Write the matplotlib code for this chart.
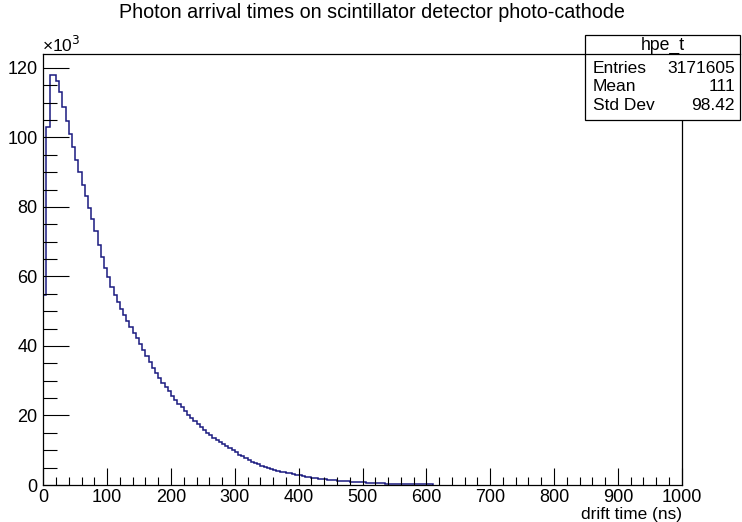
import numpy as np
import matplotlib.pyplot as plt
from matplotlib.ticker import MultipleLocator
from matplotlib.patches import Rectangle
from matplotlib.lines import Line2D

plt.rcParams['font.family'] = ['Liberation Sans', 'DejaVu Sans']

# bin contents (x 1000 entries), 5 ns bins starting at 0 ns
counts_k = [
    54.8, 103.0, 118.0, 118.0, 116.3, 113.0, 108.7, 104.8, 101.0, 97.1,
    93.5, 89.9, 86.2, 83.2, 79.8, 76.4, 73.1, 69.0, 65.5, 62.5,
    59.7, 57.0, 54.8, 52.7, 50.7, 48.9, 47.2, 45.5, 43.8, 42.2,
    40.6, 38.9, 37.1, 35.4, 33.8, 32.3, 30.8, 29.4, 28.1, 26.9,
    25.7, 24.5, 23.4, 22.3, 21.2, 20.2, 19.2, 18.3, 17.5, 16.6,
    15.8, 15.0, 14.3, 13.6, 12.9, 12.3, 11.7, 11.1, 10.6, 9.97,
    9.35, 8.76, 8.22, 7.70, 7.22, 6.76, 6.33, 5.92, 5.54, 5.18,
    4.84, 4.53, 4.29, 4.07, 3.87, 3.67, 3.48, 3.31, 3.14, 2.98,
    2.80, 2.61, 2.43, 2.26, 2.11, 1.96, 1.83, 1.71, 1.59, 1.49,
    1.40, 1.32, 1.24, 1.17, 1.10, 1.03, 0.97, 0.90, 0.83, 0.77,
    0.72, 0.66, 0.61, 0.57, 0.53, 0.49, 0.46, 0.43, 0.40, 0.38,
    0.35, 0.33, 0.31, 0.29, 0.27, 0.25, 0.23, 0.21, 0.19, 0.18,
    0.16, 0.15,
]
bin_width = 5.0
edges = np.arange(len(counts_k) + 1) * bin_width

stat_name = 'hpe_t'
stat_labels = ['Entries', 'Mean', 'Std Dev']
stat_values = ['3171605', '111', '98.42']

W, H = 742, 522
fig = plt.figure(figsize=(W / 100, H / 100), dpi=100)

# frame from pixel positions
left, right, top, bottom = 43.3, 681.7, 54.3, 485.0
ax = fig.add_axes([left / W, 1 - bottom / H, (right - left) / W, (bottom - top) / H])

ax.stairs(counts_k, edges, baseline=0, color='#1a1a80', lw=1.1)
ax.set_xlim(0, 1000)
ax.set_ylim(0, 1.05 * max(counts_k))

ax.xaxis.set_major_locator(MultipleLocator(100))
ax.xaxis.set_minor_locator(MultipleLocator(20))
ax.yaxis.set_major_locator(MultipleLocator(20))
ax.yaxis.set_minor_locator(MultipleLocator(5))
ax.tick_params(direction='in', which='both', labelsize=13, width=0.8)
ax.tick_params(axis='x', which='major', length=12, pad=3.2)
ax.tick_params(axis='x', which='minor', length=6)
ax.tick_params(axis='y', which='major', length=19, pad=4.2)
ax.tick_params(axis='y', which='minor', length=10)
for s in ax.spines.values():
    s.set_linewidth(0.9)

fig.text(371.5 / W, 1 - 13 / H, 'Photon arrival times on scintillator detector photo-cathode',
         ha='center', va='center', fontsize=14.2)
fig.text(41.5 / W, 1 - 45 / H, '×10$^{3}$', ha='left', va='center', fontsize=12.5)
fig.text(right / W, 1 - 514 / H, 'drift time (ns)', ha='right', va='center', fontsize=12.4)

# stats box
bx0, bx1, by0, by1 = 585, 740, 35, 120
fig.patches.append(Rectangle((bx0 / W, 1 - by1 / H), (bx1 - bx0) / W, (by1 - by0) / H,
                             transform=fig.transFigure, facecolor='white',
                             edgecolor='black', lw=0.9, zorder=5))
fig.lines.append(Line2D([bx0 / W, bx1 / W], [1 - 54.3 / H, 1 - 54.3 / H],
                        transform=fig.transFigure, color='black', lw=0.9, zorder=6))
fig.text((bx0 + bx1) / 2 / W, 1 - 45.5 / H, stat_name, ha='center', va='center',
         fontsize=12.7, zorder=7)
row_y = [68.3, 86.7, 105.0]
for lab, val, yy in zip(stat_labels, stat_values, row_y):
    fig.text(593 / W, 1 - yy / H, lab, ha='left', va='center', fontsize=12.5, zorder=7)
    fig.text(735 / W, 1 - yy / H, val, ha='right', va='center', fontsize=12.5, zorder=7)

fig.savefig('out.png', dpi=100)
